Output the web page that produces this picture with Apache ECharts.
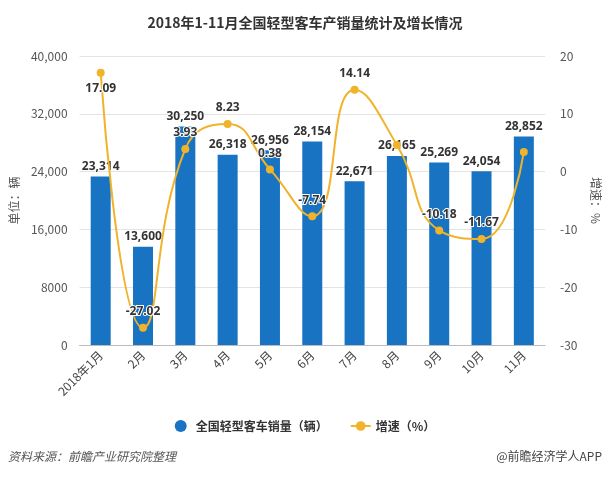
<!DOCTYPE html>
<html>
<head>
<meta charset="utf-8">
<script src="https://cdn.jsdelivr.net/npm/echarts@6/dist/echarts.min.js"></script>
<style>
html,body{margin:0;padding:0;background:#fff;}
#c{width:610px;height:477px;}
</style>
</head>
<body>
<div id="c"></div>
<script>
var categories = ['2018年1月','2月','3月','4月','5月','6月','7月','8月','9月','10月','11月'];
var salesValues = [23314, 13600, 30250, 26318, 26956, 28154, 22671, 26165, 25269, 24054, 28852];
var growthValues = [17.09, -27.02, 3.93, 8.23, 0.38, -7.74, 14.14, 4.6, -10.18, -11.67, 3.4];
var growthLabelShown = [true, true, true, true, true, true, true, false, true, true, false];
var growthLabelPos = ['bottom','top','top','top','top','top','top','top','top','top','top'];
var leftTickLabels = {0:'0', 8000:'8000', 16000:'16,000', 24000:'24,000', 32000:'32,000', 40000:'40,000'};
var seriesNames = ['全国轻型客车销量（辆）', '增速（%）'];

var FONT = '"Noto Sans CJK SC", "Noto Sans", sans-serif';
var chart = echarts.init(document.getElementById('c'), null, {renderer: 'canvas'});

function fmtThousands(v) {
  return String(v).replace(/\B(?=(\d{3})+(?!\d))/g, ',');
}

var lineData = growthValues.map(function (v, i) {
  return {
    value: v,
    label: {show: growthLabelShown[i], position: growthLabelPos[i]}
  };
});

chart.setOption({
  backgroundColor: '#fff',
  textStyle: {fontFamily: FONT},
  title: {
    text: '2018年1-11月全国轻型客车产销量统计及增长情况',
    left: 'center',
    top: 11,
    textStyle: {fontSize: 14, fontWeight: 'bold', color: '#333', fontFamily: FONT}
  },
  legend: {
    bottom: 40,
    left: 'center',
    itemGap: 22,
    itemWidth: 20,
    itemHeight: 12,
    textStyle: {fontSize: 12, color: '#333', fontWeight: 'bold', fontFamily: FONT},
    data: [
      {name: seriesNames[0], icon: 'circle'},
      {name: seriesNames[1]}
    ]
  },
  grid: {left: 73, right: 58, top: 56, bottom: 132},
  xAxis: {
    type: 'category',
    data: categories,
    axisLine: {lineStyle: {color: '#bbb'}},
    axisTick: {alignWithLabel: true, length: 5, lineStyle: {color: '#bbb'}},
    axisLabel: {rotate: 45, color: '#444', fontSize: 12, margin: 8, fontFamily: FONT}
  },
  yAxis: [
    {
      type: 'value',
      min: 0, max: 40000, interval: 8000,
      name: '单位：辆',
      nameLocation: 'middle',
      nameGap: 58,
      nameTextStyle: {color: '#555', fontSize: 12, fontFamily: FONT},
      axisLine: {show: false},
      axisTick: {show: false},
      axisLabel: {color: '#555', fontSize: 12, margin: 12, formatter: function (v) { return leftTickLabels[v]; }},
      splitLine: {lineStyle: {color: '#e3e3e3'}}
    },
    {
      type: 'value',
      min: -30, max: 20, interval: 10,
      name: '增速：%',
      nameLocation: 'middle',
      nameGap: 45,
      nameRotate: -90,
      nameTextStyle: {color: '#555', fontSize: 12, fontFamily: FONT},
      axisLine: {show: false},
      axisTick: {show: false},
      axisLabel: {color: '#555', fontSize: 12, margin: 15},
      splitLine: {show: false}
    }
  ],
  series: [
    {
      name: seriesNames[0],
      type: 'bar',
      yAxisIndex: 0,
      barWidth: 20,
      data: salesValues,
      itemStyle: {color: '#1874c3'},
      label: {
        show: true,
        position: 'top',
        distance: 4,
        color: '#333',
        fontSize: 12,
        fontWeight: 'bold',
        fontFamily: '"Noto Sans", sans-serif',
        textBorderColor: '#fff',
        textBorderWidth: 1,
        formatter: function (p) { return fmtThousands(p.value); }
      }
    },
    {
      name: seriesNames[1],
      type: 'line',
      yAxisIndex: 1,
      smooth: 0.5,
      symbol: 'circle',
      symbolSize: 8,
      data: lineData,
      lineStyle: {color: '#f0b32a', width: 2},
      itemStyle: {color: '#f0b32a'},
      label: {
        show: true,
        distance: 6,
        color: '#333',
        fontSize: 12,
        fontWeight: 'bold',
        fontFamily: '"Noto Sans", sans-serif',
        textBorderColor: '#fff',
        textBorderWidth: 2
      }
    }
  ],
  graphic: [
    {
      type: 'text', left: 8, top: 450,
      style: {text: '资料来源：前瞻产业研究院整理', fontSize: 12, fontStyle: 'italic', fill: '#555', fontFamily: FONT}
    },
    {
      type: 'text', right: 8, top: 450,
      style: {text: '@前瞻经济学人APP', fontSize: 12, fill: '#444', fontFamily: FONT}
    }
  ]
});
</script>
</body>
</html>
